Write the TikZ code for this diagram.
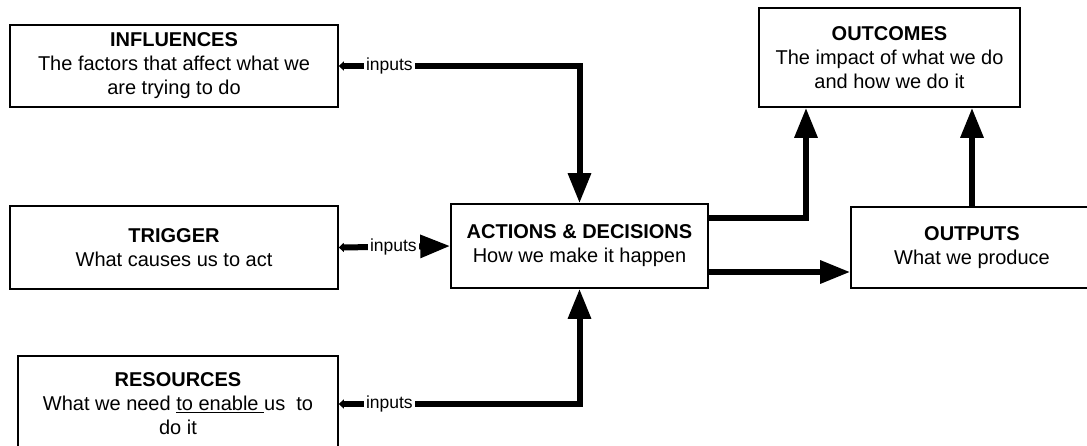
\documentclass[tikz,border=0pt]{standalone}
\usepackage{fontspec}
\setmainfont{Liberation Sans}
\usetikzlibrary{arrows.meta}
\tikzset{
  box/.style={draw, line width=1.6pt, align=center, inner sep=0pt, font=\fontsize{20}{24}\selectfont},
  conn/.style={line width=6pt, line cap=butt, -{Triangle[length=30pt,width=22pt]}},
  inconn/.style={line width=6pt, line cap=butt, {Triangle[length=5pt,width=9pt]}-{Triangle[length=30pt,width=22pt]}},
  lbl/.style={fill=white, inner sep=2.5pt, font=\fontsize{17.5}{20}\selectfont}
}
\begin{document}
\begin{tikzpicture}[x=1pt,y=-1pt]
\useasboundingbox (0,0) rectangle (1087,445);
\clip (0,0) rectangle (1087,445);
\fill[white] (0,0) rectangle (1087,445);
\node[box, minimum width=328pt, minimum height=82pt] (infl) at (174,66)
  {\textbf{INFLUENCES}\\The factors that affect what we\\are trying to do};
\node[box, minimum width=328pt, minimum height=83pt] (trig) at (174,247.5)
  {\textbf{TRIGGER}\\What causes us to act};
\node[box, minimum width=320pt, minimum height=96pt] (res) at (178,404)
  {\textbf{RESOURCES}\\What we need \underline{to enable\ }us\ \ to\\do it};
\node[box, minimum width=257pt, minimum height=84pt] (act) at (579.5,246)
  {\textbf{ACTIONS \& DECISIONS}\\How we make it happen};
\node[box, minimum width=261pt, minimum height=99pt] (outc) at (889.5,57.5)
  {\textbf{OUTCOMES}\\The impact of what we do\\and how we do it};
\node[box, minimum width=242pt, minimum height=81pt] (outp) at (972,247.5)
  {\textbf{OUTPUTS}\\What we produce};

\draw[inconn] (infl.east) -- node[lbl, pos=0.21] {inputs} (act.north |- infl.east) -- (act.north);
\draw[inconn] (trig.east) -- node[lbl, pos=0.49] {inputs} (act.west);
\draw[inconn] (res.east) -- node[lbl, pos=0.21] {inputs} (act.south |- res.east) -- (act.south);

\draw[conn] ([yshift=28pt]act.east) -| ([xshift=-83.5pt]outc.south);
\draw[conn] ([yshift=-26pt]act.east) coordinate (s) -- (s -| outp.west);
\draw[conn] (outp.north) -- (outp.north |- outc.south);
\end{tikzpicture}
\end{document}
